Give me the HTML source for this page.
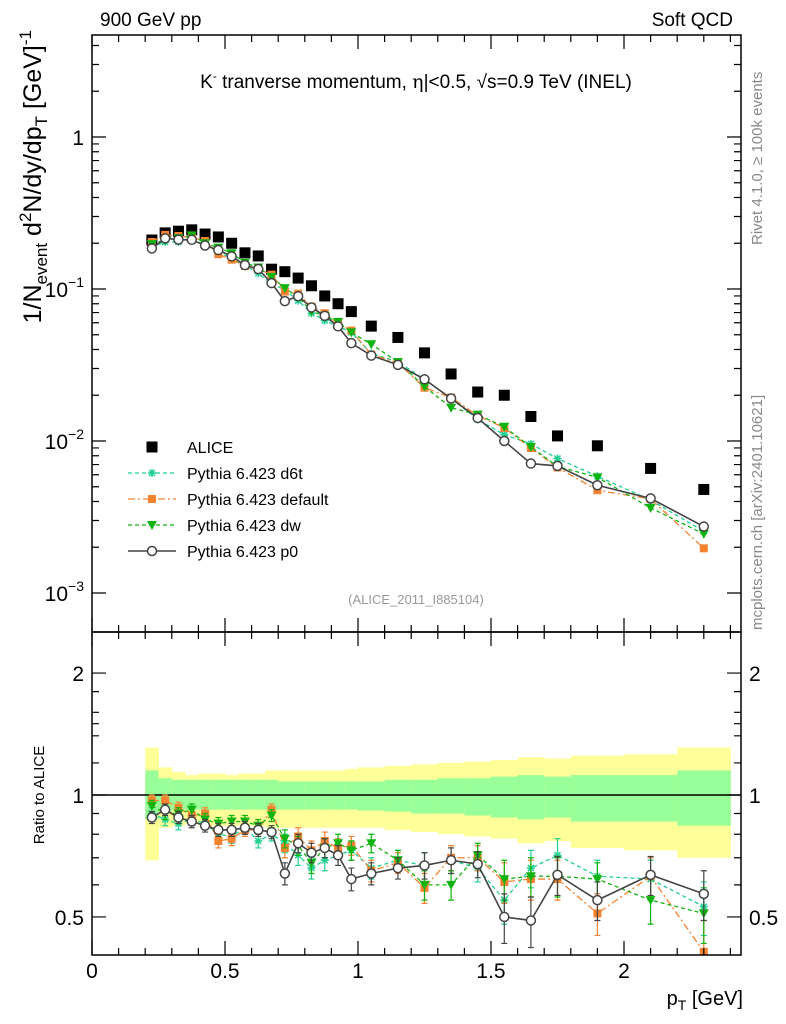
<!DOCTYPE html>
<html><head><meta charset="utf-8"><style>
html,body{margin:0;padding:0;background:#fff}
svg{display:block;font-family:"Liberation Sans",sans-serif}
</style></head><body>
<svg id="c" width="786" height="1024" viewBox="0 0 786 1024">
<defs><clipPath id="rclip"><rect x="92" y="632" width="649" height="323"/></clipPath></defs>
<rect x="0" y="0" width="786" height="1024" fill="#fff"/>
<g id="bands"></g><g id="grid"></g><g id="marks"></g><g id="rmarks" clip-path="url(#rclip)"></g><g id="axes"></g>
<text x="100" y="26" font-size="19">900 GeV pp</text>
<text x="733" y="26" font-size="19" text-anchor="end">Soft QCD</text>
<text x="416" y="88" font-size="19" text-anchor="middle">K<tspan font-size="12" dy="-8">-</tspan><tspan dy="8"> tranverse momentum, </tspan><tspan font-family="DejaVu Serif">η</tspan>|&lt;0.5, √s=0.9 TeV (INEL)</text>
<text x="416" y="604" font-size="13" fill="#999" text-anchor="middle">(ALICE_2011_I885104)</text>
<text transform="translate(762,245) rotate(-90)" font-size="15" fill="#888">Rivet 4.1.0, ≥ 100k events</text>
<text transform="translate(762,630) rotate(-90)" font-size="15" fill="#888">mcplots.cern.ch [arXiv:2401.10621]</text>
<text transform="translate(41,30) rotate(-90)" font-size="25" text-anchor="end">1/N<tspan font-size="17" dy="6">event</tspan><tspan dy="-6"> d</tspan><tspan font-size="17" dy="-10">2</tspan><tspan dy="10">N/dy/dp</tspan><tspan font-size="17" dy="6">T</tspan><tspan dy="-6"> [GeV]</tspan><tspan font-size="17" dy="-10">-1</tspan></text>
<text transform="translate(44,795) rotate(-90)" font-size="15" text-anchor="middle">Ratio to ALICE</text>
<text x="743" y="1005" font-size="20" text-anchor="end">p<tspan font-size="14" dy="5">T</tspan><tspan dy="-5"> [GeV]</tspan></text>
<g id="legend"></g>
</svg>
<script>
const xs=[0.225,0.275,0.325,0.375,0.425,0.475,0.525,0.575,0.625,0.675,0.725,0.775,0.825,0.875,0.925,0.975,1.05,1.15,1.25,1.35,1.45,1.55,1.65,1.75,1.9,2.1,2.3];
const edges=[0.2,0.25,0.3,0.35,0.4,0.45,0.5,0.55,0.6,0.65,0.7,0.75,0.8,0.85,0.9,0.95,1.0,1.1,1.2,1.3,1.4,1.5,1.6,1.7,1.8,2.0,2.2,2.4];
const alice=[0.21,0.234,0.24,0.245,0.23,0.22,0.20,0.173,0.165,0.135,0.13,0.118,0.105,0.09,0.08,0.071,0.057,0.048,0.038,0.0276,0.021,0.020,0.0145,0.0108,0.0093,0.0066,0.0048];
const rD6t=[0.9,0.87,0.85,0.87,0.85,0.80,0.79,0.83,0.77,0.80,0.76,0.71,0.66,0.69,0.71,0.73,0.66,0.69,0.67,0.69,0.66,0.55,0.66,0.71,0.63,0.62,0.53];
const rDef=[0.97,0.97,0.93,0.89,0.90,0.77,0.78,0.82,0.82,0.92,0.74,0.79,0.73,0.77,0.74,0.75,0.65,0.68,0.59,0.70,0.70,0.61,0.62,0.62,0.51,0.63,0.41];
const rDw=[0.94,0.90,0.90,0.92,0.87,0.85,0.86,0.86,0.84,0.89,0.78,0.75,0.68,0.74,0.76,0.73,0.76,0.69,0.60,0.60,0.71,0.62,0.63,0.63,0.62,0.55,0.51];
const rP0=[0.88,0.92,0.88,0.86,0.84,0.82,0.82,0.83,0.82,0.81,0.64,0.76,0.72,0.74,0.71,0.62,0.64,0.66,0.67,0.69,0.675,0.50,0.49,0.635,0.55,0.635,0.57];
const mcErr=[0.03,0.03,0.03,0.03,0.03,0.03,0.03,0.03,0.03,0.03,0.04,0.04,0.04,0.04,0.04,0.04,0.04,0.04,0.05,0.05,0.05,0.07,0.07,0.07,0.06,0.07,0.08];
const yelHi=[1.31,1.17,1.14,1.12,1.13,1.13,1.12,1.13,1.13,1.15,1.15,1.15,1.15,1.15,1.15,1.16,1.17,1.18,1.19,1.20,1.21,1.22,1.24,1.23,1.25,1.26,1.31];
const yelLo=[0.69,0.83,0.84,0.85,0.84,0.84,0.84,0.84,0.84,0.83,0.83,0.83,0.83,0.83,0.83,0.83,0.83,0.82,0.81,0.80,0.79,0.78,0.76,0.77,0.74,0.73,0.70];
const grnHi=[1.15,1.10,1.09,1.09,1.09,1.09,1.09,1.09,1.09,1.09,1.08,1.08,1.08,1.08,1.08,1.08,1.08,1.09,1.09,1.10,1.10,1.11,1.12,1.11,1.12,1.12,1.15];
const grnLo=[0.87,0.91,0.92,0.92,0.92,0.92,0.92,0.92,0.92,0.92,0.92,0.92,0.92,0.92,0.92,0.92,0.915,0.91,0.90,0.90,0.89,0.88,0.87,0.88,0.86,0.86,0.84];
const yTicksMain=[1,0.1,0.01,0.001];
const xTicks=[0,0.5,1,1.5,2];
const NS="http://www.w3.org/2000/svg";
const L=92,R=741,T=35,M=632,B=955;
const X=v=>L+v*266;
const Y=v=>137-Math.log10(v)*152;
const YR=v=>795-Math.log10(v)*405;
function mk(tag,a,p){const e=document.createElementNS(NS,tag);for(const k in a)e.setAttribute(k,a[k]);p.appendChild(e);return e;}
const bands=document.getElementById('bands'),marks=document.getElementById('marks'),rmarks=document.getElementById('rmarks'),axes=document.getElementById('axes'),lg=document.getElementById('legend');
for(let i=0;i<xs.length;i++){
  let r=mk('rect',{x:X(edges[i]),y:YR(yelHi[i]),width:X(edges[i+1])-X(edges[i])+0.5,height:YR(yelLo[i])-YR(yelHi[i]),fill:'#ffff99'},bands);
  
  
  let g=mk('rect',{x:X(edges[i]),y:YR(grnHi[i]),width:X(edges[i+1])-X(edges[i])+0.5,height:YR(grnLo[i])-YR(grnHi[i]),fill:'#99ff99'},bands);
  
  
}
mk('line',{x1:L,x2:R,y1:YR(1),y2:YR(1),stroke:'#000','stroke-width':1.5},bands);
function marker(type,cx,cy,col,s,p){
  if(type==='sq') return mk('rect',{x:cx-s/2,y:cy-s/2,width:s,height:s,fill:col},p);
  if(type==='tri') return mk('path',{d:`M${cx-5},${cy-4}L${cx+5},${cy-4}L${cx},${cy+5}Z`,fill:col},p);
  if(type==='circ') return mk('circle',{cx:cx,cy:cy,r:4.5,fill:'#fff',stroke:col,'stroke-width':1.5},p);
  const g=mk('g',{stroke:col,'stroke-width':1.5},p);
  mk('path',{d:`M${cx-4},${cy}H${cx+4}M${cx},${cy-4}V${cy+4}M${cx-3},${cy-3}L${cx+3},${cy+3}M${cx-3},${cy+3}L${cx+3},${cy-3}`},g);return g;
}
const series=[
 {name:'d6t',r:rD6t,col:'#1fd08f',dash:'4,3',m:'ast',lw:1.3},
 {name:'default',r:rDef,col:'#f5822f',dash:'7,3,2,3',m:'sq',lw:1.3},
 {name:'dw',r:rDw,col:'#10b410',dash:'4,3',m:'tri',lw:1.3},
 {name:'p0',r:rP0,col:'#444',dash:'',m:'circ',lw:1.6}];
alice.forEach((v,i)=>{const e=marker('sq',X(xs[i]),Y(v),'#000',11,marks);
 
 });
series.forEach(s=>{
  const ptsM=xs.map((x,i)=>X(x)+','+Y(alice[i]*s.r[i])).join(' ');
  const ptsR=xs.map((x,i)=>X(x)+','+YR(s.r[i])).join(' ');
  const a={fill:'none',stroke:s.col,'stroke-width':s.lw};if(s.dash)a['stroke-dasharray']=s.dash;
  const l1=mk('polyline',Object.assign({points:ptsM},a),marks);
  
  
  const l2=mk('polyline',Object.assign({points:ptsR},a),rmarks);
  
  
  xs.forEach((x,i)=>{
    const cx=X(x),y1=YR(s.r[i]+mcErr[i]),y2=YR(s.r[i]-mcErr[i]);
    const eb=mk('path',{d:`M${cx},${y1}V${y2}M${cx-3},${y1}H${cx+3}M${cx-3},${y2}H${cx+3}`,stroke:s.col,'stroke-width':1.2,fill:'none'},rmarks);
    
    
    const m1=marker(s.m,cx,Y(alice[i]*s.r[i]),s.col,8,marks);
    
    
    const m2=marker(s.m,cx,YR(s.r[i]),s.col,8,rmarks);
    
    
  });
});
mk('rect',{x:L,y:T,width:R-L,height:M-T,fill:'none',stroke:'#000','stroke-width':1.5},axes);
mk('rect',{x:L,y:M,width:R-L,height:B-M,fill:'none',stroke:'#000','stroke-width':1.5},axes);
let tk='';
for(let d=-3;d<=0;d++){for(let k=1;k<10;k++){const v=k*Math.pow(10,d);const y=Y(v);if(y<T||y>M)continue;const len=k===1?14:7;tk+=`M${L},${y}H${L+len}M${R},${y}H${R-len}`;}}
for(let k=1;k<=4;k++){const y=Y(k*10);if(y>=T)tk+=`M${L},${y}H${L+7}M${R},${y}H${R-7}`;}
[0.5,1,2].forEach(v=>{tk+=`M${L},${YR(v)}H${L+14}M${R},${YR(v)}H${R-14}`;});
[0.6,0.7,0.8,0.9,1.5,1.2,1.4,1.6,1.8].forEach(v=>{tk+=`M${L},${YR(v)}H${L+7}M${R},${YR(v)}H${R-7}`;});
for(let i=0;i<=24;i++){const v=i*0.1;const x=X(v);const len=i%5===0?14:7;
 tk+=`M${x},${T}V${T+len}M${x},${M}V${M-len}M${x},${M}V${M+len}M${x},${B}V${B-len}`;}
mk('path',{d:tk,stroke:'#000','stroke-width':1.2,fill:'none'},axes);
const ylab=[['1',''],['10','−1'],['10','−2'],['10','−3']];
yTicksMain.forEach((v,i)=>{const t=mk('text',{x:84,y:Y(v)+8,'font-size':21,'text-anchor':'end'},axes);
 
 
 if(ylab[i][1]){t.innerHTML=`10<tspan font-size="14" dy="-10">${ylab[i][1]}</tspan>`;}else t.textContent='1';});
[['2',2],['1',1],['0.5',0.5]].forEach(([s,v])=>{
 const a=mk('text',{x:84,y:YR(v)+8,'font-size':21,'text-anchor':'end'},axes);a.textContent=s;
 
 
 const b=mk('text',{x:749,y:YR(v)+8,'font-size':21},axes);b.textContent=s;
 
 });
xTicks.forEach(v=>{const t=mk('text',{x:X(v),y:978,'font-size':21,'text-anchor':'middle'},axes);t.textContent=String(v);
 
 });
const ly=[447,473,499,525,551];
const e0=marker('sq',152,ly[0],'#000',11,lg);


const t0=mk('text',{x:187,y:ly[0]+6,'font-size':16},lg);t0.textContent='ALICE';


series.forEach((s,i)=>{const y=ly[i+1];
 const a={x1:128,x2:176,y1:y,y2:y,stroke:s.col,'stroke-width':s.lw};if(s.dash)a['stroke-dasharray']=s.dash;
 mk('line',a,lg);marker(s.m,152,y,s.col,8,lg);
 const t=mk('text',{x:187,y:y+6,'font-size':16},lg);t.textContent='Pythia 6.423 '+s.name;
 
 });
</script>
</body></html>
